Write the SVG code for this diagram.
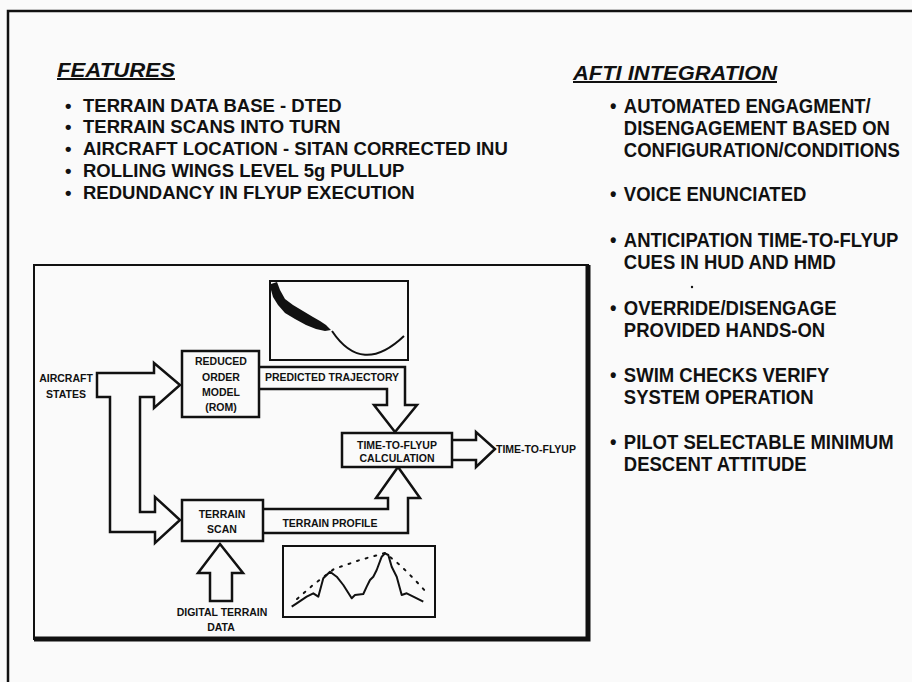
<svg xmlns="http://www.w3.org/2000/svg" width="912" height="682" viewBox="0 0 912 682">
<style>
.t{font-family:"Liberation Sans",Arial,Helvetica,sans-serif;font-weight:bold;fill:#111}
.big{font-size:18.5px}
.rc{font-size:20px}
.hd{font-size:20px;font-style:italic;text-decoration:underline}
.sm{font-size:10.5px;text-anchor:middle}
.ln{fill:none;stroke:#111;stroke-width:2.5;stroke-linejoin:miter}
.arr{fill:#fafafa;stroke:#111;stroke-width:2.5;stroke-linejoin:miter}
.box{fill:#fafafa;stroke:#111;stroke-width:2.5}
</style>
<rect width="912" height="682" fill="#fafafa"/>
<!-- outer frame -->
<path class="ln" d="M8,682 L8,11 L912,11"/>

<!-- FEATURES -->
<g id="features">
<text class="t hd" x="57" y="77" textLength="118" lengthAdjust="spacingAndGlyphs">FEATURES</text>
<text class="t big" y="112"><tspan x="65">•</tspan><tspan x="83">TERRAIN DATA BASE - DTED</tspan></text>
<text class="t big" y="133"><tspan x="65">•</tspan><tspan x="83">TERRAIN SCANS INTO TURN</tspan></text>
<text class="t big" y="155"><tspan x="65">•</tspan><tspan x="83">AIRCRAFT LOCATION - SITAN CORRECTED INU</tspan></text>
<text class="t big" y="177"><tspan x="65">•</tspan><tspan x="83">ROLLING WINGS LEVEL 5g PULLUP</tspan></text>
<text class="t big" y="199"><tspan x="65">•</tspan><tspan x="83">REDUNDANCY IN FLYUP EXECUTION</tspan></text>
</g>

<!-- AFTI INTEGRATION -->
<g id="afti">
<text class="t hd" x="573" y="80" textLength="204" lengthAdjust="spacingAndGlyphs">AFTI INTEGRATION</text>
<g transform="translate(610,0) scale(0.925,1)">
<text class="t rc" y="113"><tspan x="0">•</tspan><tspan x="15">AUTOMATED ENGAGMENT/</tspan></text>
<text class="t rc" x="15" y="135">DISENGAGEMENT BASED ON</text>
<text class="t rc" x="15" y="157">CONFIGURATION/CONDITIONS</text>
<text class="t rc" y="201"><tspan x="0">•</tspan><tspan x="15">VOICE ENUNCIATED</tspan></text>
<text class="t rc" y="247"><tspan x="0">•</tspan><tspan x="15">ANTICIPATION TIME-TO-FLYUP</tspan></text>
<text class="t rc" x="15" y="269">CUES IN HUD AND HMD</text>
<text class="t rc" y="315"><tspan x="0">•</tspan><tspan x="15">OVERRIDE/DISENGAGE</tspan></text>
<text class="t rc" x="15" y="337">PROVIDED HANDS-ON</text>
<text class="t rc" y="382"><tspan x="0">•</tspan><tspan x="15">SWIM CHECKS VERIFY</tspan></text>
<text class="t rc" x="15" y="404">SYSTEM OPERATION</text>
<text class="t rc" y="449"><tspan x="0">•</tspan><tspan x="15">PILOT SELECTABLE MINIMUM</tspan></text>
<text class="t rc" x="15" y="471">DESCENT ATTITUDE</text>
</g>
<circle cx="692" cy="287" r="1.2" fill="#111"/>
</g>

<!-- inner diagram frame -->
<g id="diagram-frame">
<rect x="34" y="265" width="554" height="374" fill="none" stroke="#111" stroke-width="2"/>
<path d="M588,265 L588,639 L34,639" fill="none" stroke="#111" stroke-width="5"/>
</g>

<!-- connectors (hollow arrows) -->
<g id="connectors">
<path class="arr" d="M97,373 L154,373 L154,363 L180,385 L154,408 L154,397 L140,397 L140,512 L155,512 L155,497 L180,520 L155,543 L155,532 L110,532 L110,397 L97,397 Z"/>
<path class="arr" d="M259,367 L405,367 L405,405 L417,405 L395,432 L374,405 L387,405 L387,389 L259,389"/>
<path class="arr" d="M452,440 L476,440 L476,432 L495,449 L476,467 L476,460 L452,460"/>
<path class="arr" d="M263,509 L388,509 L388,498 L376,498 L398,467 L420,498 L408,498 L408,533 L263,533"/>
<path class="arr" d="M210,601 L210,573 L198,573 L220,544 L243,573 L232,573 L232,601 Z"/>
</g>

<!-- labels -->
<g id="aircraft-states">
<text class="t sm" x="66" y="382">AIRCRAFT</text>
<text class="t sm" x="66" y="398">STATES</text>
</g>

<g id="rom">
<rect class="box" x="182" y="351" width="77" height="66"/>
<text class="t sm" x="221" y="365">REDUCED</text>
<text class="t sm" x="221" y="381">ORDER</text>
<text class="t sm" x="221" y="396">MODEL</text>
<text class="t sm" x="221" y="411">(ROM)</text>
</g>

<g id="predicted-trajectory-label">
<text class="t sm" x="332" y="381">PREDICTED TRAJECTORY</text>
</g>

<g id="trajectory-plot">
<rect x="270" y="281" width="138" height="79" fill="none" stroke="#111" stroke-width="2"/>
<path d="M271,284 L277,282 L280,290 L285,299 L293,305 L303,311 L313,317 L320,321 L326,325 L331,330 L325,331 L316,329 L306,325 L295,319 L285,313 L278,305 L273,297 L271,290 Z" fill="#111"/>
<path d="M332,331 Q362,376 404,336" fill="none" stroke="#111" stroke-width="2"/>
</g>

<g id="time-to-flyup-calc">
<rect class="box" x="342" y="433" width="110" height="34"/>
<text class="t sm" x="397" y="449">TIME-TO-FLYUP</text>
<text class="t sm" x="397" y="462">CALCULATION</text>
</g>

<g id="time-to-flyup-out">
<text class="t" font-size="10.5" x="496" y="453">TIME-TO-FLYUP</text>
</g>

<g id="terrain-scan">
<rect class="box" x="182" y="500" width="81" height="41"/>
<text class="t sm" x="222" y="518">TERRAIN</text>
<text class="t sm" x="222" y="533">SCAN</text>
</g>

<g id="terrain-profile-label">
<text class="t sm" x="330" y="527">TERRAIN PROFILE</text>
</g>

<g id="digital-terrain-data">
<text class="t sm" x="222" y="616">DIGITAL TERRAIN</text>
<text class="t sm" x="221" y="631">DATA</text>
</g>

<g id="terrain-plot">
<rect x="283" y="546" width="152" height="71" fill="none" stroke="#111" stroke-width="2"/>
<polyline fill="none" stroke="#111" stroke-width="2" stroke-linejoin="round" points="291.7,606.7 296.7,603.3 306.7,596.7 313.3,593.3 318.3,596.7 323.3,578.3 330,571.7 336.7,576.7 343.3,585 351.7,598.3 355,595 363.3,594 366.7,586.7 370,580 373.3,576.7 376.7,570 381.7,556.7 385,553.3 388.3,555 391.7,566.7 396.7,576.7 401.7,595 406.7,593.3 413.3,596.7 423.3,601.7"/>
<polyline fill="none" stroke="#111" stroke-width="2" stroke-dasharray="2 7" stroke-linecap="round" points="297,599 313,585 334,569 360,560 385,553 400,565 415,580 428,594"/>
</g>
</svg>
